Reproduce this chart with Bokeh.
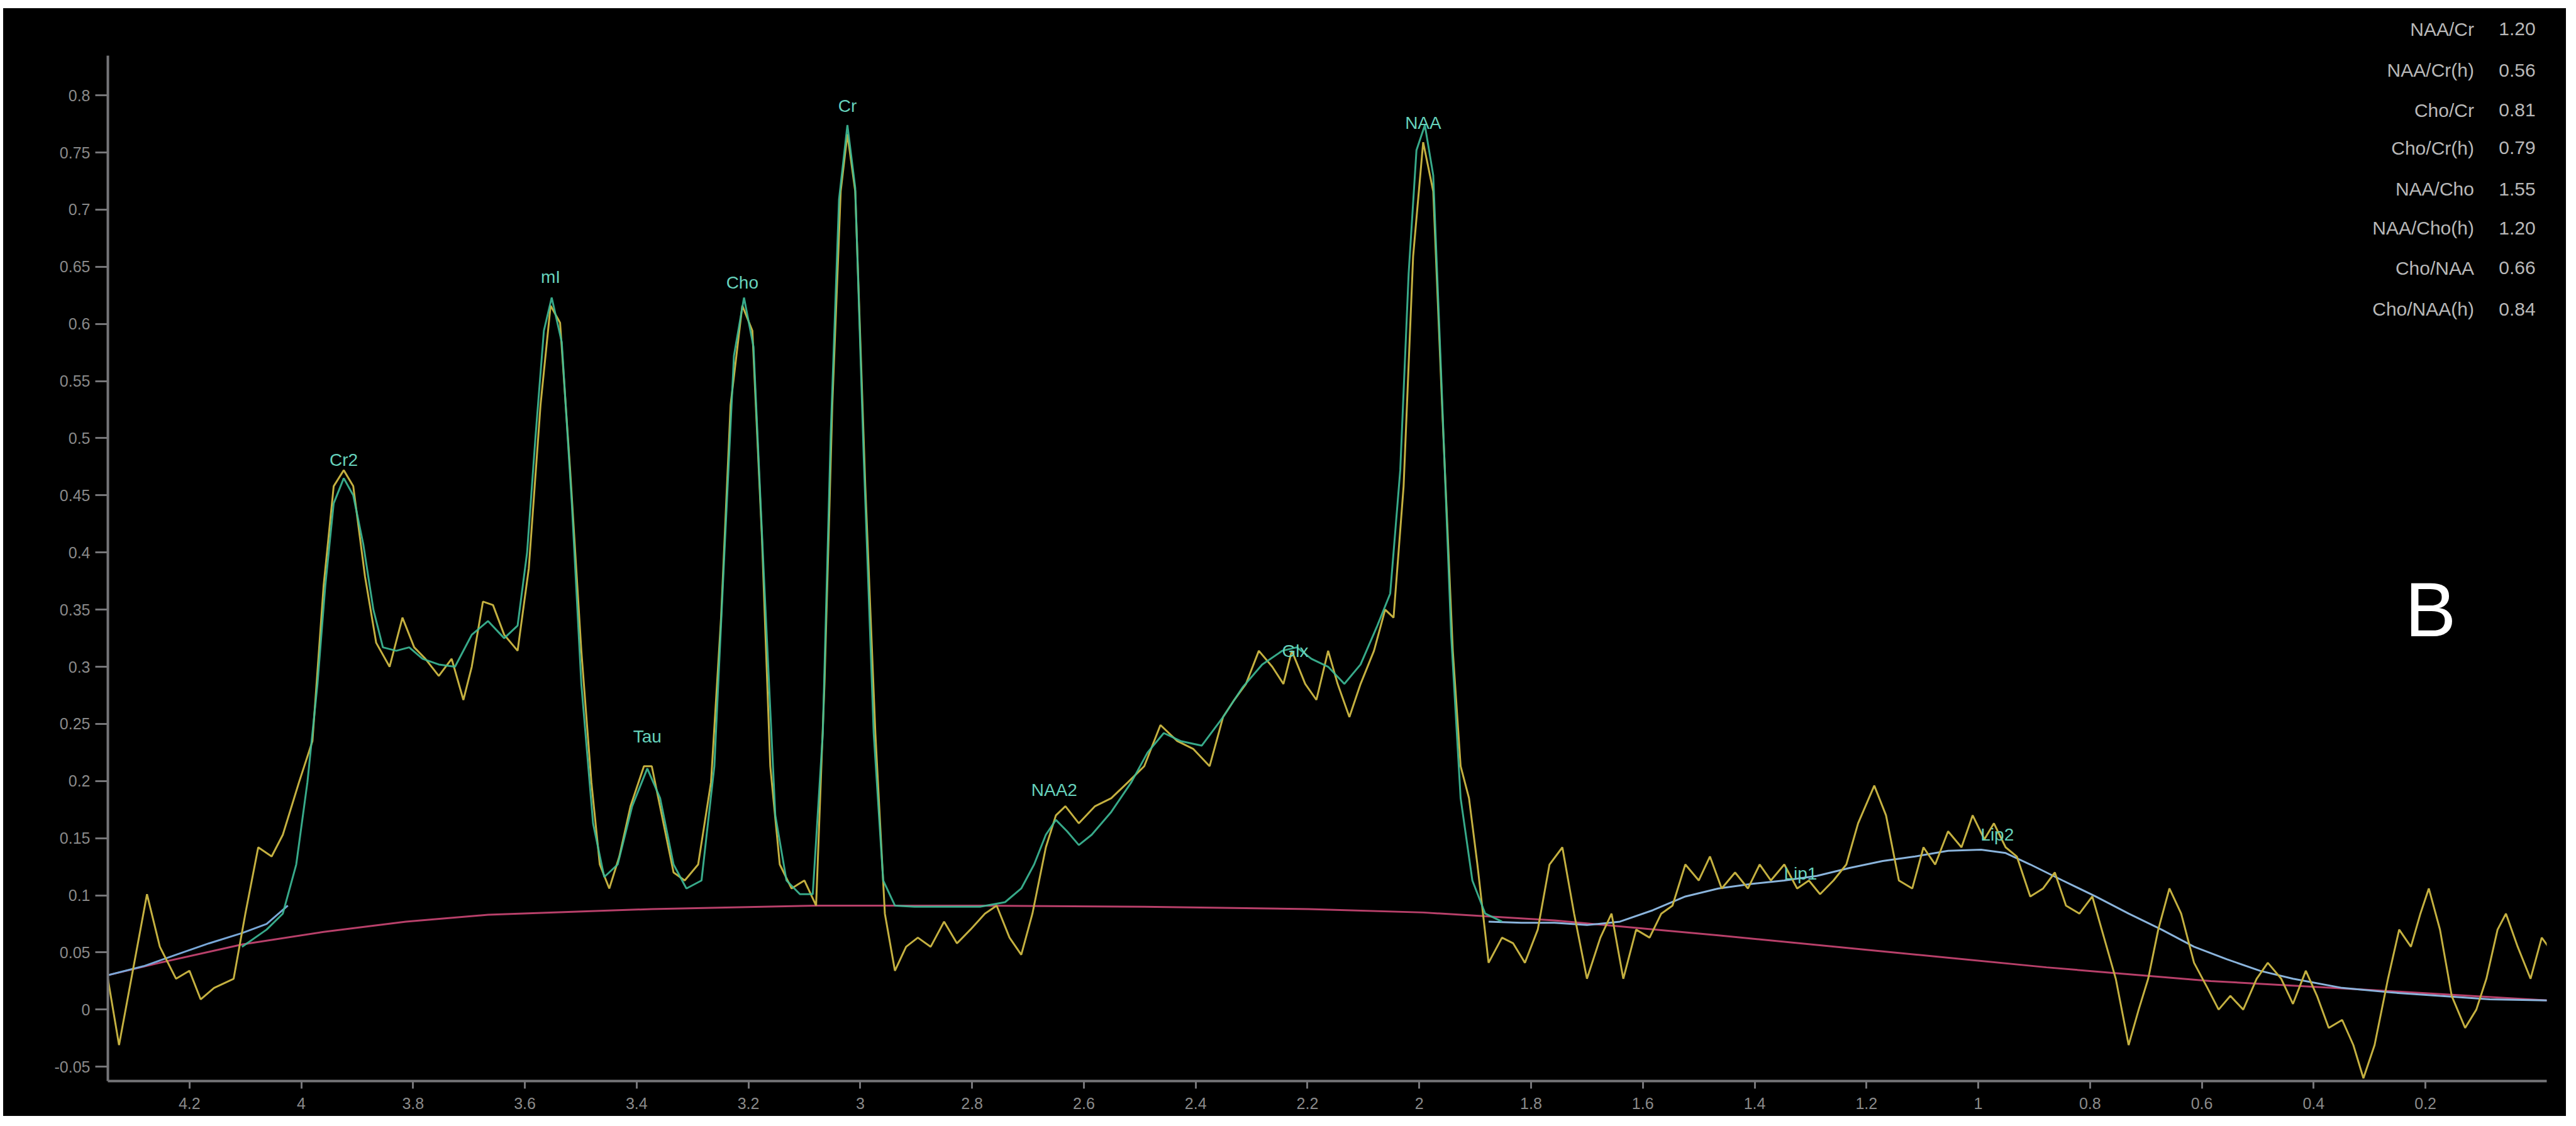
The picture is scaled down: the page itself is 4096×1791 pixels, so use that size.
from bokeh.plotting import figure
from bokeh.layouts import column, row, Spacer
from bokeh.models import Range1d, FixedTicker, Label, ColumnDataSource
from bokeh.core.properties import value
from bokeh.embed import file_html
from bokeh.resources import INLINE

# ---------------- data (ppm, intensity) ----------------
raw_ppm = [
    4.347, 4.326, 4.276, 4.253, 4.224, 4.200, 4.180, 4.156, 4.121, 4.100,
    4.077, 4.053, 4.033, 4.004, 3.980, 3.960, 3.942, 3.924, 3.907, 3.886,
    3.866, 3.842, 3.819, 3.798, 3.778, 3.754, 3.731, 3.710, 3.695, 3.675,
    3.657, 3.637, 3.613, 3.593, 3.572, 3.554, 3.537, 3.519, 3.499, 3.481,
    3.466, 3.449, 3.431, 3.411, 3.387, 3.373, 3.352, 3.334, 3.314, 3.290,
    3.267, 3.249, 3.232, 3.211, 3.193, 3.176, 3.161, 3.144, 3.123, 3.100,
    3.079, 3.064, 3.050, 3.035, 3.023, 3.009, 2.991, 2.973, 2.956, 2.938,
    2.918, 2.897, 2.874, 2.850, 2.827, 2.803, 2.777, 2.756, 2.733, 2.712,
    2.692, 2.668, 2.650, 2.633, 2.609, 2.580, 2.551, 2.521, 2.492, 2.463,
    2.433, 2.404, 2.375, 2.351, 2.331, 2.310, 2.287, 2.263, 2.243, 2.228,
    2.204, 2.184, 2.163, 2.146, 2.125, 2.105, 2.081, 2.061, 2.046, 2.028,
    2.011, 1.993, 1.975, 1.958, 1.940, 1.926, 1.911, 1.896, 1.876, 1.852,
    1.832, 1.811, 1.788, 1.767, 1.744, 1.723, 1.700, 1.676, 1.656, 1.635,
    1.612, 1.588, 1.567, 1.547, 1.524, 1.500, 1.480, 1.459, 1.435, 1.412,
    1.391, 1.371, 1.347, 1.324, 1.303, 1.283, 1.259, 1.236, 1.215, 1.186,
    1.165, 1.142, 1.118, 1.098, 1.077, 1.054, 1.030, 1.010, 0.989, 0.972,
    0.951, 0.931, 0.907, 0.884, 0.863, 0.843, 0.819, 0.796, 0.775, 0.754,
    0.731, 0.713, 0.696, 0.678, 0.658, 0.637, 0.614, 0.590, 0.570, 0.549,
    0.526, 0.502, 0.482, 0.458, 0.437, 0.414, 0.394, 0.373, 0.349, 0.329,
    0.311, 0.291, 0.267, 0.247, 0.226, 0.209, 0.194, 0.174, 0.153, 0.129,
    0.109, 0.091, 0.071, 0.056, 0.035, 0.012, -0.008, -0.020,
]
raw_val = [
    0.030, -0.031, 0.101, 0.055, 0.027, 0.034, 0.009, 0.019, 0.027, 0.084,
    0.142, 0.134, 0.153, 0.199, 0.235, 0.371, 0.458, 0.472, 0.458, 0.379,
    0.321, 0.300, 0.343, 0.317, 0.307, 0.292, 0.307, 0.271, 0.300, 0.357,
    0.354, 0.328, 0.314, 0.386, 0.529, 0.616, 0.601, 0.472, 0.314, 0.199,
    0.127, 0.106, 0.134, 0.178, 0.213, 0.213, 0.163, 0.120, 0.113, 0.127,
    0.199, 0.343, 0.529, 0.616, 0.594, 0.414, 0.213, 0.127, 0.106, 0.113,
    0.091, 0.285, 0.529, 0.716, 0.766, 0.716, 0.458, 0.242, 0.084, 0.034,
    0.055, 0.063, 0.055, 0.077, 0.058, 0.070, 0.084, 0.091, 0.063, 0.048,
    0.084, 0.142, 0.170, 0.178, 0.163, 0.178, 0.185, 0.199, 0.213, 0.249,
    0.235, 0.228, 0.213, 0.256, 0.271, 0.285, 0.314, 0.300, 0.285, 0.314,
    0.285, 0.271, 0.314, 0.285, 0.256, 0.285, 0.314, 0.350, 0.343, 0.458,
    0.659, 0.759, 0.716, 0.515, 0.314, 0.213, 0.185, 0.127, 0.041, 0.063,
    0.058, 0.041, 0.070, 0.127, 0.142, 0.084, 0.027, 0.063, 0.084, 0.027,
    0.070, 0.063, 0.084, 0.091, 0.127, 0.113, 0.134, 0.106, 0.120, 0.106,
    0.127, 0.113, 0.127, 0.106, 0.113, 0.101, 0.113, 0.127, 0.163, 0.196,
    0.170, 0.113, 0.106, 0.142, 0.127, 0.156, 0.142, 0.170, 0.149, 0.163,
    0.142, 0.134, 0.099, 0.106, 0.120, 0.091, 0.084, 0.099, 0.063, 0.027,
    -0.031, 0.000, 0.027, 0.070, 0.106, 0.084, 0.041, 0.019, 0.000, 0.012,
    0.000, 0.027, 0.041, 0.027, 0.005, 0.034, 0.012, -0.016, -0.009, -0.031,
    -0.060, -0.031, 0.027, 0.070, 0.055, 0.084, 0.106, 0.070, 0.012, -0.016,
    0.000, 0.027, 0.070, 0.084, 0.055, 0.027, 0.063, 0.055,
]

fit_ppm = [
    4.106, 4.062, 4.033, 4.009, 3.989, 3.971, 3.957, 3.942, 3.924, 3.907,
    3.889, 3.871, 3.854, 3.830, 3.807, 3.783, 3.754, 3.725, 3.695, 3.666,
    3.637, 3.613, 3.596, 3.581, 3.566, 3.552, 3.534, 3.516, 3.499, 3.478,
    3.458, 3.434, 3.408, 3.381, 3.358, 3.334, 3.311, 3.284, 3.261, 3.243,
    3.226, 3.208, 3.191, 3.173, 3.152, 3.132, 3.108, 3.085, 3.067, 3.053,
    3.038, 3.023, 3.009, 2.994, 2.976, 2.959, 2.938, 2.903, 2.844, 2.786,
    2.741, 2.712, 2.689, 2.668, 2.650, 2.630, 2.609, 2.586, 2.551, 2.515,
    2.486, 2.457, 2.427, 2.389, 2.351, 2.316, 2.281, 2.245, 2.219, 2.193,
    2.163, 2.134, 2.105, 2.075, 2.052, 2.034, 2.019, 2.005, 1.990, 1.975,
    1.961, 1.943, 1.926, 1.905, 1.882, 1.852,
]
fit_val = [
    0.055, 0.070, 0.084, 0.127, 0.199, 0.285, 0.371, 0.443, 0.465, 0.450,
    0.407, 0.350, 0.317, 0.314, 0.317, 0.307, 0.302, 0.300, 0.328, 0.340,
    0.325, 0.336, 0.400, 0.501, 0.594, 0.623, 0.584, 0.443, 0.285, 0.163,
    0.116, 0.127, 0.178, 0.211, 0.185, 0.127, 0.106, 0.113, 0.213, 0.400,
    0.572, 0.623, 0.580, 0.386, 0.170, 0.113, 0.101, 0.101, 0.242, 0.501,
    0.709, 0.774, 0.719, 0.486, 0.242, 0.113, 0.091, 0.090, 0.090, 0.090,
    0.094, 0.106, 0.127, 0.153, 0.166, 0.156, 0.144, 0.153, 0.173, 0.199,
    0.225, 0.242, 0.235, 0.231, 0.256, 0.282, 0.302, 0.314, 0.317, 0.307,
    0.300, 0.285, 0.302, 0.336, 0.364, 0.472, 0.644, 0.752, 0.774, 0.730,
    0.558, 0.328, 0.185, 0.113, 0.084, 0.077,
]

smooth_left_ppm = [4.347, 4.282, 4.224, 4.165, 4.106, 4.062, 4.024]
smooth_left_val = [0.030, 0.038, 0.048, 0.058, 0.067, 0.075, 0.091]
smooth_right_ppm = [
    1.876, 1.817, 1.758, 1.700, 1.641, 1.582, 1.524, 1.465, 1.406, 1.347,
    1.289, 1.230, 1.171, 1.113, 1.054, 0.995, 0.951, 0.907, 0.849, 0.790,
    0.731, 0.672, 0.614, 0.555, 0.496, 0.437, 0.349, 0.261, 0.174, 0.085, -0.020,
]
smooth_right_val = [
    0.077, 0.076, 0.076, 0.074, 0.077, 0.087, 0.099, 0.106, 0.110, 0.113,
    0.117, 0.124, 0.130, 0.134, 0.139, 0.140, 0.137, 0.127, 0.113, 0.099,
    0.084, 0.070, 0.055, 0.044, 0.034, 0.027, 0.019, 0.015, 0.012, 0.009, 0.008,
]

base_ppm = [4.347, 4.253, 4.106, 3.960, 3.813, 3.666, 3.373, 3.079, 2.786, 2.492,
            2.198, 1.993, 1.758, 1.465, 1.171, 0.878, 0.584, 0.291, -0.020]
base_val = [0.030, 0.041, 0.057, 0.068, 0.077, 0.083, 0.088, 0.091, 0.091, 0.090,
            0.088, 0.085, 0.078, 0.065, 0.051, 0.037, 0.025, 0.017, 0.008]

peak_names = ["Cr2", "mI", "Tau", "Cho", "Cr", "NAA2", "Glx", "NAA", "Lip1", "Lip2"]
peak_ppm = [3.924, 3.554, 3.381, 3.211, 3.023, 2.653, 2.222, 1.993, 1.318, 0.966]
peak_val = [0.481, 0.641, 0.239, 0.636, 0.791, 0.192, 0.314, 0.776, 0.119, 0.153]

ratio_names = ["NAA/Cr", "NAA/Cr(h)", "Cho/Cr", "Cho/Cr(h)",
               "NAA/Cho", "NAA/Cho(h)", "Cho/NAA", "Cho/NAA(h)"]
ratio_values = ["1.20", "0.56", "0.81", "0.79", "1.55", "1.20", "0.66", "0.84"]

x_ticks = [4.2, 4.0, 3.8, 3.6, 3.4, 3.2, 3.0, 2.8, 2.6, 2.4, 2.2,
           2.0, 1.8, 1.6, 1.4, 1.2, 1.0, 0.8, 0.6, 0.4, 0.2]
x_labels = ["4.2", "4", "3.8", "3.6", "3.4", "3.2", "3", "2.8", "2.6", "2.4", "2.2",
            "2", "1.8", "1.6", "1.4", "1.2", "1", "0.8", "0.6", "0.4", "0.2"]
y_ticks = [-0.05, 0.0, 0.05, 0.1, 0.15, 0.2, 0.25, 0.3, 0.35, 0.4,
           0.45, 0.5, 0.55, 0.6, 0.65, 0.7, 0.75, 0.8]
y_labels = ["-0.05", "0", "0.05", "0.1", "0.15", "0.2", "0.25", "0.3", "0.35", "0.4",
            "0.45", "0.5", "0.55", "0.6", "0.65", "0.7", "0.75", "0.8"]

panel_letter = "B"

assert len(raw_ppm) == len(raw_val)
assert len(fit_ppm) == len(fit_val)

# ---------------- figure ----------------
FONT = "Liberation Sans"
Y_TOP = 0.876
p = figure(width=4075, height=1762, output_backend="svg", toolbar_location=None,
           x_range=Range1d(4.346, -0.017), y_range=Range1d(-0.0625, Y_TOP),
           min_border_left=166, min_border_right=31, min_border_top=0,
           min_border_bottom=56,
           background_fill_color="black", border_fill_color="black",
           outline_line_color=None)
p.styles = {"background-color": "black"}
p.grid.visible = False

p.line(base_ppm, base_val, line_color="#b8406a", line_width=3)
p.line(smooth_left_ppm, smooth_left_val, line_color="#79a8d8", line_width=3)
p.line(smooth_right_ppm, smooth_right_val, line_color="#8ab4dc", line_width=3)
p.line(raw_ppm, raw_val, line_color="#c4b040", line_width=3)
p.line(fit_ppm, fit_val, line_color="#3dbb98", line_width=3, line_alpha=0.9)

src = ColumnDataSource(dict(x=peak_ppm, y=peak_val, t=peak_names))
p.text(x="x", y="y", text="t", source=src, text_color="#66d2bc",
       text_font=value(FONT), text_font_size="28px",
       text_align="center", text_baseline="middle")

# ratio block (top right)
row_y = [0.858, 0.822, 0.787, 0.754, 0.718, 0.684, 0.649, 0.613]
for nm, vl, yy in zip(ratio_names, ratio_values, row_y):
    p.add_layout(Label(x=0.113, y=yy, text=nm, text_align="right",
                       text_baseline="middle", text_font=FONT,
                       text_font_size="30px", text_color="#b8b8b8"))
    p.add_layout(Label(x=0.003, y=yy, text=vl, text_align="right",
                       text_baseline="middle", text_font=FONT,
                       text_font_size="30px", text_color="#b8b8b8"))

p.add_layout(Label(x=0.191, y=0.350, text=panel_letter, text_align="center",
                   text_baseline="middle", text_font=FONT,
                   text_font_size="122px", text_color="white"))

# axes
for ax in (p.xaxis[0], p.yaxis[0]):
    ax.axis_line_color = "#757578"
    ax.axis_line_width = 4
    ax.major_tick_line_color = "#757578"
    ax.major_tick_line_width = 3
    ax.major_tick_in = 0
    ax.minor_tick_line_color = None
    ax.major_label_text_color = "#8a8a8a"
    ax.major_label_text_font = FONT
    ax.major_label_text_font_size = "25px"

p.xaxis.ticker = FixedTicker(ticks=x_ticks)
p.xaxis.major_label_overrides = dict(zip(x_ticks, x_labels))
p.xaxis.major_tick_out = 12
p.xaxis.major_label_standoff = 14

p.yaxis.ticker = FixedTicker(ticks=y_ticks)
p.yaxis.major_label_overrides = dict(zip(y_ticks, y_labels))
p.yaxis.major_tick_out = 20
p.yaxis.major_label_standoff = 8
p.yaxis.bounds = (-0.0625, 0.835)

layout = column(Spacer(height=13), row(Spacer(width=5), p))
open("out.html", "w").write(file_html(layout, INLINE))
